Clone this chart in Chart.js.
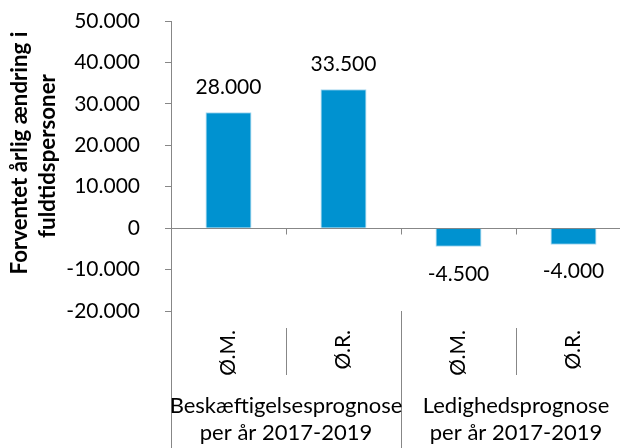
<!DOCTYPE html>
<html>
<head>
<meta charset="utf-8">
<script src="https://cdn.jsdelivr.net/npm/chart.js@4"></script>
<style>
html, body { margin: 0; padding: 0; overflow: hidden; background: #fff; }
#wrap { width: 632px; height: 448px; }
</style>
</head>
<body>
<div id="wrap"><canvas id="myBarChart" width="632" height="448"></canvas></div>
<script>
// Data
const categories = ['Ø.M.', 'Ø.R.', 'Ø.M.', 'Ø.R.'];
const groupLabels = [
    ['Beskæftigelsesprognose', 'per år 2017-2019'],
    ['Ledighedsprognose', 'per år 2017-2019']
];
const values = [28000, 33500, -4500, -4000];
const yTicks = [-20000, -10000, 0, 10000, 20000, 30000, 40000, 50000];
const yTitle = ['Forventet årlig ændring i', 'fuldtidspersoner'];

const axisGray = '#878787';
const barBlue = '#0092d0';
const fontFamily = 'Lato, "Open Sans", sans-serif';

// danish number format: 28.000, -4.500
function fmt(v) {
    const s = Math.abs(v).toString().replace(/\B(?=(\d{3})+(?!\d))/g, '.');
    return (v < 0 ? '-' : '') + s;
}

// labels, separators and axis title drawn on top of the chart
const extrasPlugin = {
    id: 'extras',
    afterDraw(chart) {
        const ctx = chart.ctx;
        const area = chart.chartArea;
        const x = chart.scales.x;
        const y = chart.scales.y;
        const zeroY = Math.round(y.getPixelForValue(0)) + 0.5;
        const catW = x.getPixelForValue(1) - x.getPixelForValue(0);
        const firstEdge = x.getPixelForValue(0) - catW / 2;

        ctx.save();
        ctx.strokeStyle = axisGray;
        ctx.lineWidth = 1;
        for (let i = 0; i <= 4; i++) {
            const bx = Math.round(firstEdge + i * catW) + 0.5;
            ctx.beginPath();
            if (i === 0 || i === 2) {
                ctx.moveTo(bx, area.bottom);
                ctx.lineTo(bx, chart.height);
            } else if (i < 4) {
                ctx.moveTo(bx, area.bottom + 17);
                ctx.lineTo(bx, area.bottom + 64);
            }
            if (i > 0 && i < 4) {
                ctx.moveTo(bx, zeroY);
                ctx.lineTo(bx, zeroY + 6);
            }
            ctx.stroke();
        }

        // value labels
        ctx.fillStyle = '#000';
        ctx.font = '21px ' + fontFamily;
        ctx.textAlign = 'center';
        ctx.textBaseline = 'middle';
        chart.getDatasetMeta(0).data.forEach((bar, i) => {
            const v = values[i];
            const ly = v >= 0 ? bar.y - 25 : bar.y + 27;
            ctx.fillText(fmt(v), bar.x, ly);
        });

        // group labels under the categories
        ctx.font = '22px ' + fontFamily;
        groupLabels.forEach((lines, g) => {
            const cx = firstEdge + (g * 2 + 1) * catW;
            ctx.fillText(lines[0], cx, area.bottom + 95);
            ctx.fillText(lines[1], cx, area.bottom + 122);
        });

        // y axis title, sized so the first line is about 243px long
        ctx.font = 'bold 20px ' + fontFamily;
        let titleSize = 20 * 243 / ctx.measureText(yTitle[0]).width;
        titleSize = Math.min(Math.max(titleSize, 16), 24);
        ctx.font = 'bold ' + titleSize.toFixed(1) + 'px ' + fontFamily;
        ctx.textBaseline = 'alphabetic';
        const titlePos = [[27, 153], [55, 156]];
        yTitle.forEach((line, i) => {
            ctx.save();
            ctx.translate(titlePos[i][0], titlePos[i][1]);
            ctx.rotate(-Math.PI / 2);
            ctx.fillText(line, 0, 0);
            ctx.restore();
        });
        ctx.restore();
    }
};

const ctx = document.getElementById('myBarChart').getContext('2d');
const myBarChart = new Chart(ctx, {
    type: 'bar',
    data: {
        labels: categories,
        datasets: [{
            data: values,
            backgroundColor: barBlue,
            borderColor: '#a8d8ef',
            borderWidth: 1,
            barPercentage: 0.4,
            categoryPercentage: 1.0
        }]
    },
    options: {
        responsive: false,
        animation: false,
        layout: {
            padding: { top: 21, right: 1, left: 0, bottom: 0 }
        },
        plugins: {
            legend: { display: false },
            tooltip: { enabled: false }
        },
        scales: {
            x: {
                grid: { display: false },
                border: { display: false },
                ticks: {
                    color: '#000',
                    font: { family: fontFamily, size: 21 },
                    minRotation: 90,
                    maxRotation: 90,
                    padding: 11
                },
                afterFit: function (scale) {
                    scale.height = 137;
                }
            },
            y: {
                min: -20000,
                max: 50000,
                afterBuildTicks: function (scale) {
                    scale.ticks = yTicks.map(v => ({ value: v }));
                },
                grid: {
                    drawOnChartArea: true,
                    color: c => (c.tick && c.tick.value === 0) ? axisGray : 'rgba(0,0,0,0)',
                    tickColor: axisGray,
                    tickLength: 6,
                    lineWidth: 1
                },
                border: { display: true, color: axisGray, width: 1 },
                ticks: {
                    color: '#000',
                    font: { family: fontFamily, size: 21 },
                    padding: 25,
                    callback: v => fmt(v)
                },
                afterFit: function (scale) {
                    scale.width = 171;
                    // tick padding would otherwise push the plot top down
                    scale.paddingTop = 0;
                    scale.paddingBottom = 0;
                }
            }
        }
    },
    plugins: [extrasPlugin]
});
</script>
</body>
</html>
